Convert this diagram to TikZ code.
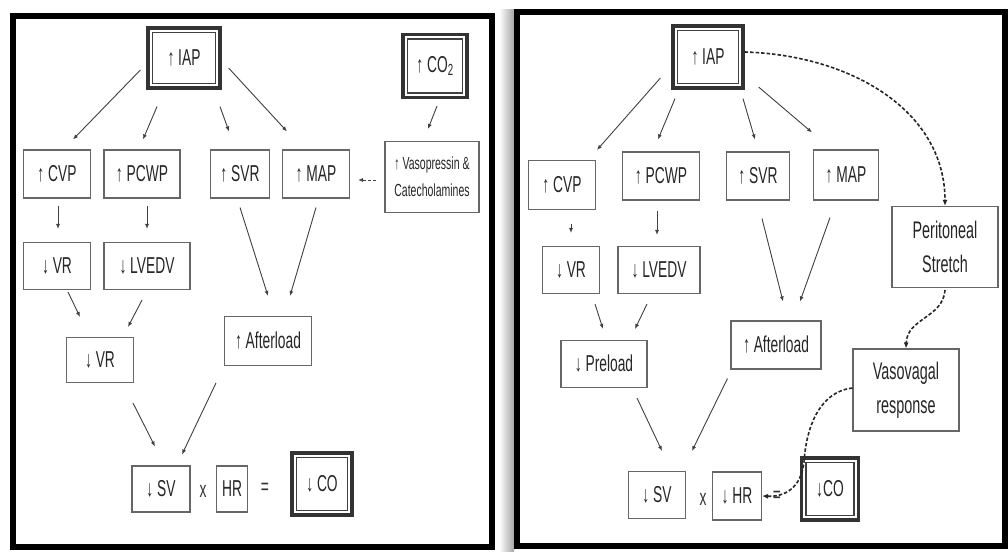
\documentclass[tikz,border=0pt]{standalone}
\usepackage{fontspec}
\setmainfont{Liberation Sans}[FakeStretch=0.6]
\usetikzlibrary{arrows.meta,calc}
\begin{document}
\begin{tikzpicture}[x=1pt,y=-1pt,
  box/.style={draw=black!60, line width=1.1pt, fill=white, inner sep=0pt, align=center,
    font=\fontsize{23}{27}\selectfont, text=black!85},
  dbox/.style={box, draw=black!80, line width=3.2pt,
    path picture={\draw[black!75, line width=1.2pt]
      ([shift={(4.5pt,-4.5pt)}]path picture bounding box.north west) rectangle
      ([shift={(-4.5pt,4.5pt)}]path picture bounding box.south east);}},
  arr/.style={-{Latex[length=5pt,width=4pt]}, draw=black!75, line width=0.9pt},
  darr/.style={-{Latex[length=6pt,width=5pt]}, draw=black!85, dash pattern=on 3.5pt off 2pt, line width=1.6pt},
  sym/.style={font=\fontsize{23}{27}\selectfont, text=black!80, inner sep=0pt},
  panel/.style={draw=black, line width=6pt, fill=white}]

\useasboundingbox (0,0) rectangle (1008,551);
\fill[white] (0,0) rectangle (1008,551);
\shade[left color=white, right color=black!35] (499,10) rectangle (514,551);
\draw[panel] (13,16) rectangle (492,547);
\draw[panel] (517,12) rectangle (1005,546);

% ---------------- left panel ----------------
\node[dbox, minimum width=72pt, minimum height=60pt] (LIAP) at (184,58) {↑ IAP};
\node[dbox, minimum width=64pt, minimum height=63pt] (LCO2) at (435,66) {↑ CO\textsubscript{2}};
\node[box, minimum width=67pt, minimum height=48pt] (LCVP) at (57,174) {↑ CVP};
\node[box, minimum width=76pt, minimum height=48pt] (LPCWP) at (142,174) {↑ PCWP};
\node[box, minimum width=59pt, minimum height=48pt] (LSVR) at (240,174) {↑ SVR};
\node[box, minimum width=67pt, minimum height=48pt] (LMAP) at (316,174) {↑ MAP};
\node[box, minimum width=94pt, minimum height=71pt, font=\fontsize{17.5}{27}\selectfont] (LVASO) at (432,177) {↑ Vasopressin \&\\Catecholamines};
\node[box, minimum width=67pt, minimum height=47pt] (LVR) at (57,266) {↓ VR};
\node[box, minimum width=86pt, minimum height=47pt] (LLVEDV) at (147,266) {↓ LVEDV};
\node[box, minimum width=67pt, minimum height=45pt] (LVR2) at (100,360) {↓ VR};
\node[box, minimum width=87pt, minimum height=49pt] (LAFT) at (268,341) {↑ Afterload};
\node[box, minimum width=58pt, minimum height=46pt] (LSV) at (161,489) {↓ SV};
\node[sym] (LX) at (203,491) {x};
\node[box, minimum width=31pt, minimum height=46pt] (LHR) at (232,489) {HR};
\node[sym] (LEQ) at (265,489) {=};
\node[dbox, minimum width=60pt, minimum height=62pt] (LCO) at (322,484) {↓ CO};

\draw[arr] ($(LIAP.west)+(-6,12)$) -- ($(LCVP.north)+(16,-10)$);
\draw[arr] ($(LIAP.south)+(-27,17)$) -- ($(LPCWP.north)+(1,-10)$);
\draw[arr] ($(LIAP.south)+(36,17)$) -- ($(LSVR.north)+(-11,-18)$);
\draw[arr] ($(LIAP.east)+(7,10)$) -- ($(LMAP.north)+(-29,-18)$);
\draw[arr] ($(LCO2.south)+(2,7)$) -- ($(LVASO.north)+(-4,-12)$);
\draw[arr, dash pattern=on 3pt off 2pt] ($(LVASO.west)+(-8,3)$) -- ($(LMAP.east)+(8,6)$);
\draw[arr] ($(LCVP.south)+(1,7)$) -- ($(LVR.north)+(1,-13)$);
\draw[arr] ($(LPCWP.south)+(5,7)$) -- ($(LLVEDV.north)+(0,-13)$);
\draw[arr] ($(LVR.south)+(11,2)$) -- ($(LVR2.north)+(-20,-20)$);
\draw[arr] ($(LLVEDV.south)+(-5,10)$) -- ($(LVR2.north)+(28,-10)$);
\draw[arr] ($(LSVR.south)+(0,9)$) -- ($(LAFT.north)+(0,-20)$);
\draw[arr] ($(LMAP.south)+(0,9)$) -- ($(LAFT.north)+(22,-20)$);
\draw[arr] ($(LVR2.south)+(33,20)$) -- ($(LSV.north)+(-6,-19)$);
\draw[arr] ($(LAFT.south west)+(-8,17)$) -- ($(LSV.north)+(21,-11)$);

% ---------------- right panel ----------------
\node[dbox, minimum width=70pt, minimum height=62pt] (RIAP) at (708,57) {↑ IAP};
\node[box, minimum width=67pt, minimum height=49pt] (RCVP) at (562,185) {↑ CVP};
\node[box, minimum width=77pt, minimum height=48pt] (RPCWP) at (661,176) {↑ PCWP};
\node[box, minimum width=63pt, minimum height=48pt] (RSVR) at (758,176) {↑ SVR};
\node[box, minimum width=65pt, minimum height=50pt] (RMAP) at (846,175) {↑ MAP};
\node[box, minimum width=106pt, minimum height=81pt, font=\fontsize{24}{34}\selectfont] (RPER) at (945,247) {Peritoneal\\Stretch};
\node[box, minimum width=57pt, minimum height=47pt] (RVR) at (571,270) {↓ VR};
\node[box, minimum width=82pt, minimum height=47pt] (RLVEDV) at (659,270) {↓ LVEDV};
\node[box, minimum width=86pt, minimum height=47pt] (RPRE) at (604,364) {↓ Preload};
\node[box, minimum width=90pt, minimum height=48pt] (RAFT) at (776,345) {↑ Afterload};
\node[box, minimum width=106pt, minimum height=82pt, font=\fontsize{24}{34}\selectfont] (RVV) at (906,390) {Vasovagal\\response};
\node[box, minimum width=57pt, minimum height=47pt] (RSV) at (657,495) {↓ SV};
\node[sym] (RX) at (703,499) {x};
\node[box, minimum width=49pt, minimum height=48pt] (RHR) at (737,496) {↓ HR};
\node[dbox, minimum width=57pt, minimum height=62pt] (RCO) at (830,489) {↓CO};

\draw[arr] ($(RIAP.west)+(-11,21)$) -- ($(RCVP.north)+(35,-10)$);
\draw[arr] ($(RIAP.south)+(-33,9)$) -- ($(RPCWP.north)+(-3,-12)$);
\draw[arr] ($(RIAP.south)+(35,9)$) -- ($(RSVR.north)+(-3,-12)$);
\draw[arr] ($(RIAP.east)+(14,30)$) -- ($(RMAP.north)+(-34,-17)$);
\draw[darr] ($(RIAP.east)+(0,-5)$) .. controls (850,55) and (945,110) .. (RPER.north);
\draw[arr] ($(RCVP.south)+(9,14)$) -- ($(RVR.north)+(0,-13)$);
\draw[arr] ($(RPCWP.south)+(-4,10)$) -- ($(RLVEDV.north)+(-2,-11)$);
\draw[arr] ($(RVR.south)+(24,10)$) -- ($(RPRE.north)+(-1,-11)$);
\draw[arr] ($(RLVEDV.south)+(-12,10)$) -- ($(RPRE.north)+(31,-11)$);
\draw[arr] ($(RSVR.south)+(4,18)$) -- ($(RAFT.north)+(7,-19)$);
\draw[arr] ($(RMAP.south)+(-16,17)$) -- ($(RAFT.north)+(24,-19)$);
\draw[arr] ($(RPRE.south)+(33,10)$) -- ($(RSV.north)+(5,-20)$);
\draw[arr] ($(RAFT.south west)+(-3,9)$) -- ($(RSV.north)+(35,-20)$);
\draw[darr] ($(RPER.south)+(0,2)$) .. controls (943,318) and (907,318) .. (RVV.north);
\draw[darr] ($(RVV.west)+(0,-2)$) .. controls (818,392) and (806,430) .. (804,462)
  .. controls (801,487) and (786,497) .. (RHR.east);
\node[sym] (REQ) at (777,497) {=};
\end{tikzpicture}
\end{document}
